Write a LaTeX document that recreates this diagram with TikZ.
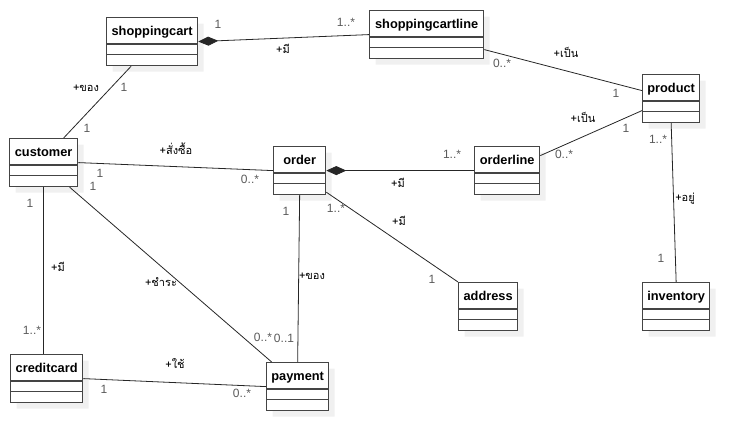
\documentclass[tikz,border=0pt]{standalone}
\usepackage{fontspec}
\setmainfont{Liberation Sans}
\newfontfamily\thaifont[Script=Thai]{Loma}
\usepackage{tikz}
\usetikzlibrary{shapes.multipart, arrows.meta, positioning, shadows}
\definecolor{boxgray}{RGB}{68,68,68}
\definecolor{multgray}{RGB}{90,90,90}
\definecolor{shadowgray}{RGB}{240,240,240}

\begin{document}
\begin{tikzpicture}[x=1pt, y=-1pt,
    umlclass/.style={rectangle split, rectangle split parts=3, draw=boxgray, line width=1.3pt, fill=white,
                     rectangle split empty part height=9.5pt, rectangle split empty part depth=0pt,
                     inner ysep=0pt, inner xsep=3pt, anchor=north west,
                     font=\fontsize{12.8}{14}\selectfont\bfseries,
                     execute at begin node={\vrule height 17pt depth 8pt width 0pt},
                     drop shadow={shadow xshift=6pt, shadow yshift=-6pt, fill=shadowgray, opacity=1}},
    assoc/.style={draw=black!85, line width=0.8pt},
    compose/.style={assoc, {Diamond[length=20pt, width=9pt]}-},
    mult/.style={text=multgray, font=\fontsize{12}{14}\selectfont, inner sep=0pt},
    role/.style={font=\fontsize{11}{13}\selectfont\thaifont, inner sep=0pt}
]
    \useasboundingbox (0,0) rectangle (749,446);

    % classes
    \node[umlclass, minimum width=91pt] (cart) at (106,17) {shoppingcart};
    \node[umlclass, minimum width=114pt] (cartline) at (369,10) {shoppingcartline};
    \node[umlclass, minimum width=57pt] (product) at (642,74) {product};
    \node[umlclass, minimum width=65pt] (orderline) at (474,146) {orderline};
    \node[umlclass, minimum width=68pt] (customer) at (9,138) {customer};
    \node[umlclass, minimum width=52pt] (order) at (273,146) {order};
    \node[umlclass, minimum width=59pt] (address) at (458,282) {address};
    \node[umlclass, minimum width=67pt] (inventory) at (642,282) {inventory};
    \node[umlclass, minimum width=72pt] (creditcard) at (10,354) {creditcard};
    \node[umlclass, minimum width=62pt] (payment) at (266,362) {payment};

    % associations
    \draw[compose] (cart.east) -- (cartline.west);
    \draw[assoc] ([yshift=-15pt]cartline.east) -- ([yshift=8pt]product.west);
    \draw[assoc] ([yshift=15pt]orderline.east) -- ([yshift=-12pt]product.west);
    \draw[assoc] (product.south) -- (inventory.north);
    \draw[assoc] ([xshift=-21pt]cart.south) -- ([xshift=20pt]customer.north);
    \draw[assoc] (customer.east) -- (order.west);
    \draw[compose] (order.east) -- (orderline.west);
    \draw[assoc] ([yshift=3pt]order.south east) -- (address.north west);
    \draw[assoc] (order.south) -- (payment.north);
    \draw[assoc] (customer.south) -- (customer.south |- creditcard.north);
    \draw[assoc] ([xshift=26pt]customer.south) -- ([xshift=-26pt]payment.north);
    \draw[assoc] (creditcard.east) -- (payment.west);

    % shoppingcart - shoppingcartline
    \node[mult] (m-cart) at (218,24) {1};
    \node[mult] (m-cartline) at (346,22) {1..*};
    \node[role] (r-cart) at (283,49) {+มี};
    % shoppingcartline - product
    \node[mult] (m-cartline2) at (502,63) {0..*};
    \node[role] (r-cartline) at (566,52) {+เป็น};
    \node[mult] (m-product) at (616,93) {1};
    % orderline - product
    \node[role] (r-orderline) at (583,117) {+เป็น};
    \node[mult] (m-product2) at (626,128) {1};
    \node[mult] (m-orderline) at (564,154) {0..*};
    % product - inventory
    \node[mult] (m-product3) at (658,139) {1..*};
    \node[role] (r-inventory) at (685,199) {+อยู่};
    \node[mult] (m-inventory) at (661,258) {1};
    % shoppingcart - customer
    \node[role] (r-customer) at (86,88) {+ของ};
    \node[mult] (m-cart2) at (124,87) {1};
    \node[mult] (m-customer) at (87,128) {1};
    % customer - order
    \node[role] (r-buy) at (176,149) {+สั่งซื้อ};
    \node[mult] (m-customer2) at (100,173) {1};
    \node[mult] (m-order) at (250,179) {0..*};
    % customer - payment
    \node[mult] (m-customer3) at (93,186) {1};
    \node[role] (r-pay) at (161,282) {+ชำระ};
    \node[mult] (m-payment) at (263,337) {0..*};
    % customer - creditcard
    \node[mult] (m-customer4) at (30,203) {1};
    \node[role] (r-card) at (58,267) {+มี};
    \node[mult] (m-creditcard) at (32,330) {1..*};
    % order - orderline
    \node[mult] (m-orderline2) at (452,154) {1..*};
    \node[role] (r-order) at (398,183) {+มี};
    % order - address
    \node[mult] (m-order2) at (336,208) {1..*};
    \node[role] (r-address) at (399,221) {+มี};
    \node[mult] (m-address) at (432,279) {1};
    % order - payment
    \node[mult] (m-order3) at (286,211) {1};
    \node[role] (r-payment) at (312,276) {+ของ};
    \node[mult] (m-payment2) at (284,338) {0..1};
    % creditcard - payment
    \node[role] (r-use) at (175,364) {+ใช้};
    \node[mult] (m-creditcard2) at (104,389) {1};
    \node[mult] (m-payment3) at (242,393) {0..*};
\end{tikzpicture}
\end{document}
